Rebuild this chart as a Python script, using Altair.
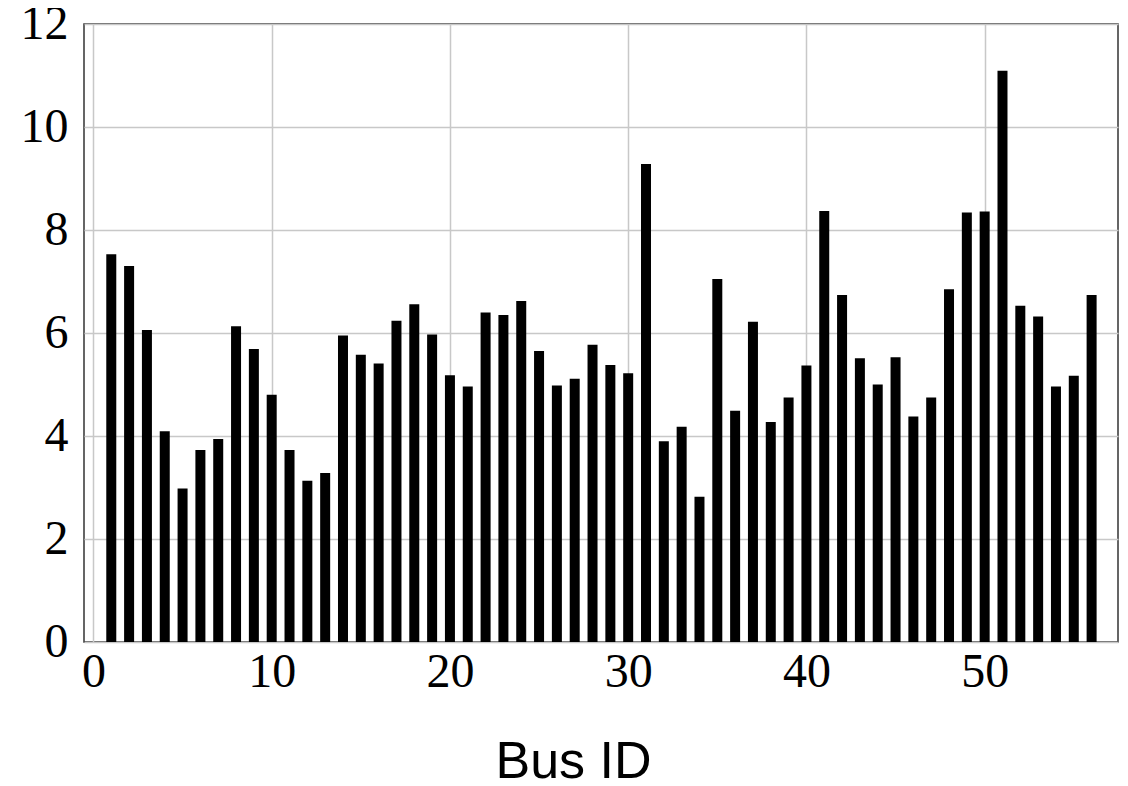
import altair as alt
import pandas as pd

bus_id = list(range(1, 57))
values = [7.53, 7.30, 6.06, 4.09, 2.98, 3.73, 3.94, 6.13, 5.69, 4.80,
          3.73, 3.13, 3.28, 5.95, 5.58, 5.41, 6.24, 6.56, 5.97, 5.18,
          4.96, 6.40, 6.35, 6.62, 5.65, 4.98, 5.11, 5.77, 5.38, 5.22,
          9.28, 3.90, 4.18, 2.82, 7.05, 4.49, 6.22, 4.27, 4.75, 5.37,
          8.37, 6.74, 5.51, 5.00, 5.53, 4.38, 4.75, 6.85, 8.34, 8.36,
          11.09, 6.53, 6.32, 4.96, 5.17, 6.74]
x_ticks = [0, 10, 20, 30, 40, 50]
y_ticks = [0, 2, 4, 6, 8, 10, 12]

df = pd.DataFrame({"bus": bus_id, "value": values})

chart = alt.Chart(df).mark_bar(size=10, color="black").encode(
    x=alt.X("bus:Q",
            scale=alt.Scale(domain=[-0.25, 57.2], nice=False, zero=False),
            axis=alt.Axis(title="Bus ID", values=x_ticks, labelFont="Liberation Serif",
                          labelFontSize=48, labelColor="black", labelPadding=6,
                          titleFont="Liberation Sans", titleFontSize=52,
                          titleFontWeight="normal", titleColor="black", titlePadding=40,
                          titleX=489, titleAlign="center",
                          grid=True, gridColor="#c8c8c8", gridWidth=1.5,
                          ticks=False, domain=False, labelFlush=False)),
    y=alt.Y("value:Q",
            scale=alt.Scale(domain=[0, 12], nice=False),
            axis=alt.Axis(title=None, values=y_ticks, labelFont="Liberation Serif",
                          labelFontSize=48, labelColor="black", labelPadding=16,
                          grid=True, gridColor="#c8c8c8", gridWidth=1.5,
                          ticks=False, domain=False, labelFlush=False)),
).properties(
    width=1034, height=618,
    autosize=alt.AutoSizeParams(type="none"),
    padding={"left": 76, "top": 16, "right": 2, "bottom": 150},
).configure_view(stroke="#333333", strokeWidth=1.5)

chart.save("out.html", embed_options={"renderer": "svg", "actions": False})
